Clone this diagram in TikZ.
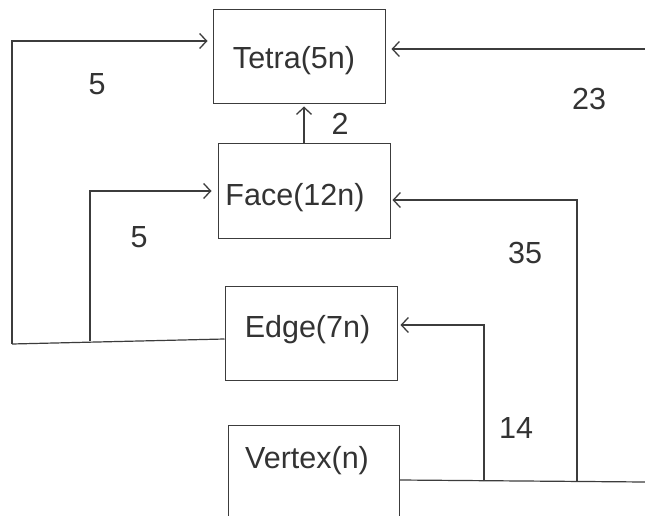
\documentclass[tikz,border=0pt]{standalone}
\usepackage{fontspec}
\setmainfont{Liberation Sans}
\usetikzlibrary{arrows.meta}
\definecolor{linec}{HTML}{3C3C3C}
\definecolor{textc}{HTML}{333333}
\begin{document}
\begin{tikzpicture}[x=1pt,y=-1pt,
  box/.style={draw=linec, line width=1pt, minimum width=172pt, minimum height=94pt, inner sep=0pt},
  lbl/.style={text=textc, font=\fontsize{30.5}{36}\selectfont, inner sep=0pt, anchor=base},
  conn/.style={draw=linec, line width=1.2pt},
  arr/.style={conn, -{Straight Barb[length=7pt,width=15pt,line width=1.3pt]}}]
\clip (0,0) rectangle (645,516);
\fill[white] (0,0) rectangle (645,516);

% boxes
\node[box] (tetra) at (299,57) {};
\node[box] (face) at (304,191) {};
\node[box] (edge) at (311,333) {};
\node[box, minimum width=171pt] (vertex) at (313.5,472) {};

% box captions
\node[lbl] (tetratxt) at (294,69) {Tetra(5n)};
\node[lbl] (facetxt) at (295,205) {Face(12n)};
\node[lbl] (edgetxt) at (307.5,337) {Edge(7n)};
\node[lbl] (vertextxt) at (307,468) {Vertex(n)};

% edge counts
\node[lbl] (l5a) at (97,95) {5};
\node[lbl] (l5b) at (139,247) {5};
\node[lbl] (l2) at (340,135) {2};
\node[lbl] (l23) at (589,110) {23};
\node[lbl] (l35) at (525,263) {35};
\node[lbl] (l14) at (516,438) {14};

% turning points
\coordinate (bl) at (12,344);
\coordinate (tl) at (12,41);
\coordinate (bi) at (90,341);
\coordinate (ti) at (90,191);
\coordinate (rt) at (645,49);
\coordinate (vb) at (577,481);
\coordinate (vt) at (577,200);
\coordinate (eb) at (484,481);
\coordinate (et) at (484,325);
\coordinate (rb) at (645,482);

% left side: Edge feeds Tetra and Face
\draw[conn] ([yshift=-6pt]edge.west) -- (bl);
\draw[arr, shorten >=5pt] (bl) -- (tl) -- (tetra.west |- tl);
\draw[arr, shorten >=6pt] (bi) -- (ti) -- (face.west |- ti);

% Face up to Tetra
\draw[arr, shorten >=2pt] (face.north) -- (face.north |- tetra.south);

% right side: Vertex feeds Tetra, Face and Edge
\draw[conn] ([yshift=-8pt]vertex.east) -- (rb);
\draw[arr, shorten >=6pt] (rt) -- (tetra.east |- rt);
\draw[arr, shorten >=2pt] (vb) -- (vt) -- (face.east |- vt);
\draw[arr, shorten >=3pt] (eb) -- (et) -- (edge.east |- et);
\end{tikzpicture}
\end{document}
